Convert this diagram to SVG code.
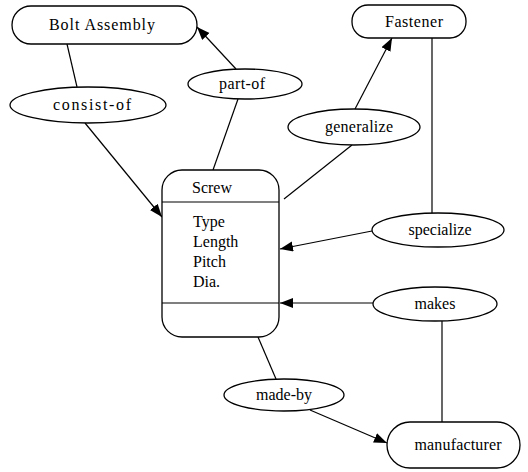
<svg xmlns="http://www.w3.org/2000/svg" width="528" height="472" viewBox="0 0 528 472">
<defs>
<marker id="arr" markerUnits="userSpaceOnUse" markerWidth="14" markerHeight="12" refX="13" refY="5" orient="auto">
<path d="M0,0 L13,5 L0,10 Z" fill="#000"/>
</marker>
<style>
.n{fill:#fff;stroke:#000;stroke-width:1.3}
.t{font-family:"Liberation Serif","Times New Roman",serif;font-size:16px;fill:#000}
.c{text-anchor:middle}
.e{stroke:#000;stroke-width:1.2;fill:none}
.a{marker-end:url(#arr)}
</style>
</defs>
<rect width="528" height="472" fill="#fff"/>
<g id="connectors">
<line class="e" x1="67" y1="44" x2="77" y2="87"/>
<line class="e a" x1="85" y1="123" x2="162" y2="217"/>
<line class="e a" x1="236" y1="69" x2="197" y2="27"/>
<line class="e" x1="238" y1="99" x2="213" y2="170"/>
<line class="e a" x1="355" y1="109" x2="392" y2="38"/>
<line class="e" x1="352" y1="145" x2="284" y2="199"/>
<line class="e" x1="432" y1="38" x2="432" y2="213"/>
<line class="e a" x1="372" y1="231" x2="280" y2="249"/>
<line class="e a" x1="373" y1="303" x2="280" y2="303"/>
<line class="e" x1="442" y1="321" x2="442" y2="422"/>
<line class="e" x1="258" y1="337" x2="276" y2="379"/>
<line class="e a" x1="310" y1="410" x2="387" y2="443"/>
</g>
<g id="bolt-assembly">
<rect class="n" x="12" y="6" width="185" height="38" rx="19"/>
<text class="t c" x="102" y="30" textLength="106" font-size="17">Bolt Assembly</text>
</g>
<g id="consist-of">
<ellipse class="n" cx="88" cy="105" rx="78" ry="18"/>
<text class="t c" x="92" y="110" textLength="78">consist-of</text>
</g>
<g id="part-of">
<ellipse class="n" cx="245" cy="84" rx="57" ry="15"/>
<text class="t c" x="242" y="89" textLength="46">part-of</text>
</g>
<g id="fastener">
<rect class="n" x="352" y="5" width="114" height="33" rx="16"/>
<text class="t c" x="414" y="27" textLength="58">Fastener</text>
</g>
<g id="generalize">
<ellipse class="n" cx="354" cy="127" rx="66" ry="18"/>
<text class="t c" x="359" y="132" textLength="68">generalize</text>
</g>
<g id="screw">
<rect class="n" x="162" y="170" width="117" height="167" rx="20"/>
<line class="e" x1="162" y1="202" x2="279" y2="202"/>
<line class="e" x1="162" y1="303" x2="279" y2="303"/>
<text class="t c" x="212" y="193">Screw</text>
<text class="t" x="193" y="227">Type</text>
<text class="t" x="193" y="247">Length</text>
<text class="t" x="193" y="267">Pitch</text>
<text class="t" x="193" y="287">Dia.</text>
</g>
<g id="specialize">
<ellipse class="n" cx="438" cy="230" rx="66" ry="17"/>
<text class="t c" x="440" y="235" textLength="63">specialize</text>
</g>
<g id="makes">
<ellipse class="n" cx="435" cy="304" rx="62" ry="17"/>
<text class="t c" x="435" y="309">makes</text>
</g>
<g id="made-by">
<ellipse class="n" cx="284" cy="395" rx="60" ry="16"/>
<text class="t c" x="284" y="400">made-by</text>
</g>
<g id="manufacturer">
<rect class="n" x="387" y="422" width="133" height="46" rx="23"/>
<text class="t c" x="458" y="450" textLength="87">manufacturer</text>
</g>
</svg>
